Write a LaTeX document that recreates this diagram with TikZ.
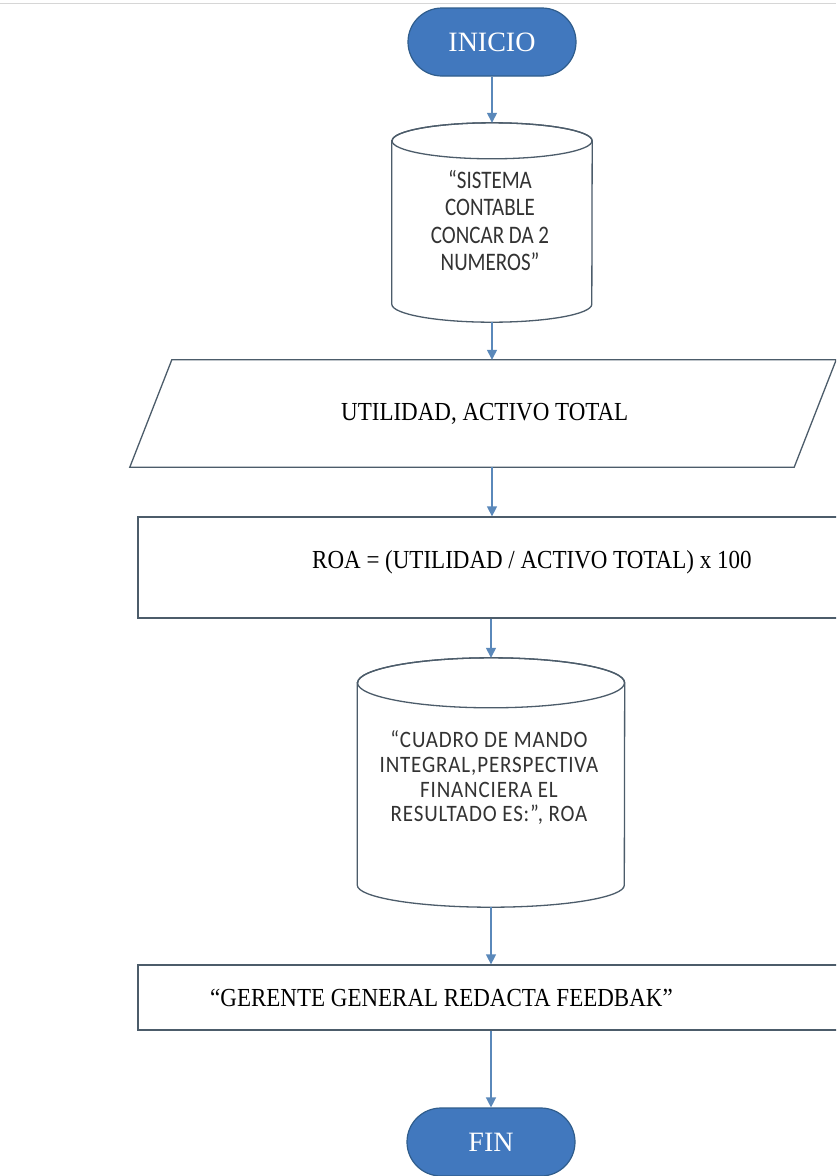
\documentclass[tikz,border=0pt]{standalone}
\usepackage{fontspec}
\usepackage{graphicx}
\setmainfont{Liberation Serif}
\newfontfamily\calibrifont{Carlito}
\usetikzlibrary{arrows.meta,calc}

\definecolor{ovalfill}{HTML}{4178BE}
\definecolor{ovaldraw}{HTML}{2F5D8C}
\definecolor{edgecol}{HTML}{4C5C6A}
\definecolor{arrowcol}{HTML}{5A88BA}
\definecolor{sanscol}{HTML}{333333}
\definecolor{rulecol}{HTML}{D6D6D6}

% slightly tall lettering, as in the printed labels
\newcommand{\tallline}[1]{\scalebox{1}[1.13]{#1}}
\newcommand{\tallstack}[2]{\scalebox{1}[#1]{\begin{tabular}{@{}c@{}}#2\end{tabular}}}

\tikzset{
  terminal/.style={draw=ovaldraw, fill=ovalfill, line width=1.2pt,
    rounded corners=34pt, minimum width=168pt, minimum height=68pt,
    inner sep=0pt, text=white, font=\fontsize{28}{32}\selectfont},
  procbox/.style={draw=edgecol, line width=1.3pt, fill=white,
    minimum width=706pt, inner sep=0pt},
  frame/.style={draw=none, inner sep=0pt},
  shapeline/.style={draw=edgecol, line width=1.3pt, fill=white},
  flow/.style={draw=arrowcol, line width=1.4pt,
    -{Triangle[width=10pt,length=10pt]}},
  seriflabel/.style={inner sep=0pt, font=\fontsize{23}{27}\selectfont},
  sanslabel/.style={inner sep=0pt, align=center, text=sanscol}
}

\begin{document}
\begin{tikzpicture}[x=1pt, y=1pt]
\useasboundingbox (0,0) rectangle (836,-1176);
\clip (0,0) rectangle (836,-1176);
\fill[white] (0,0) rectangle (836,-1176);
\draw[rulecol, line width=1pt] (0,-3) -- (836,-3);

% start terminal
\node[terminal] (start) at (492,-42) {INICIO};

% data store: accounting system
\node[frame, minimum width=200pt, minimum height=199pt] (cyl1) at (492,-222.5) {};
\path[shapeline] ($(cyl1.north west)+(0,-18)$) -- ($(cyl1.south west)+(0,18)$)
  arc[start angle=180, end angle=360, x radius=100, y radius=18]
  -- ($(cyl1.north east)+(0,-18)$)
  arc[start angle=0, end angle=180, x radius=100, y radius=18] -- cycle;
\draw[edgecol, line width=1.3pt] ($(cyl1.north)+(0,-18)$) ellipse [x radius=100, y radius=18];
\node[sanslabel, font=\calibrifont\fontsize{21}{23}\selectfont] (cyl1text) at (490,-224)
  {\tallstack{1.2}{“SISTEMA\\CONTABLE\\CONCAR DA 2\\NUMEROS”}};

% input parallelogram
\node[frame, minimum width=706pt, minimum height=107pt] (inp) at (483,-413.5) {};
\path[shapeline] ($(inp.north west)+(42,0)$) -- (inp.north east)
  -- ($(inp.south east)+(-42,0)$) -- (inp.south west) -- cycle;
\node[seriflabel, anchor=base west] (inptext) at (341,-420) {\tallline{UTILIDAD, ACTIVO TOTAL}};

% process box
\node[procbox, minimum height=101pt] (roa) at (491,-567.5) {};
\node[seriflabel, anchor=base west] (roatext) at (312,-568)
  {\tallline{ROA = (UTILIDAD / ACTIVO TOTAL) x 100}};

% data store: balanced scorecard
\node[frame, minimum width=267pt, minimum height=249pt] (cyl2) at (491,-782.5) {};
\path[shapeline] ($(cyl2.north west)+(0,-25)$) -- ($(cyl2.south west)+(0,22)$)
  arc[start angle=180, end angle=360, x radius=133.5, y radius=22]
  -- ($(cyl2.north east)+(0,-25)$)
  arc[start angle=0, end angle=180, x radius=133.5, y radius=25] -- cycle;
\draw[edgecol, line width=1.3pt] ($(cyl2.north)+(0,-25)$) ellipse [x radius=133.5, y radius=25];
\node[sanslabel, font=\calibrifont\fontsize{21}{22}\selectfont\addfontfeature{LetterSpace=4}]
  (cyl2text) at (489,-780)
  {\tallstack{1.12}{“CUADRO DE MANDO\\INTEGRAL,PERSPECTIVA\\FINANCIERA EL\\RESULTADO ES:”, ROA}};

% feedback box
\node[procbox, minimum height=65pt] (fb) at (491,-997.5) {};
\node[seriflabel, anchor=base west] (fbtext) at (210,-1006)
  {\tallline{“GERENTE GENERAL REDACTA FEEDBAK”}};

% end terminal (runs off the lower edge)
\node[terminal] (fin) at (491,-1142) {FIN};

% connectors
\draw[flow] (start.south) -- (cyl1.north);
\draw[flow] (cyl1.south) -- (inp.north -| cyl1.south);
\draw[flow] (inp.south -| cyl1.south) -- (roa.north -| cyl1.south);
\draw[flow] (roa.south) -- (cyl2.north);
\draw[flow] (cyl2.south) -- (fb.north);
\draw[flow] (fb.south) -- (fin.north);
\end{tikzpicture}
\end{document}
